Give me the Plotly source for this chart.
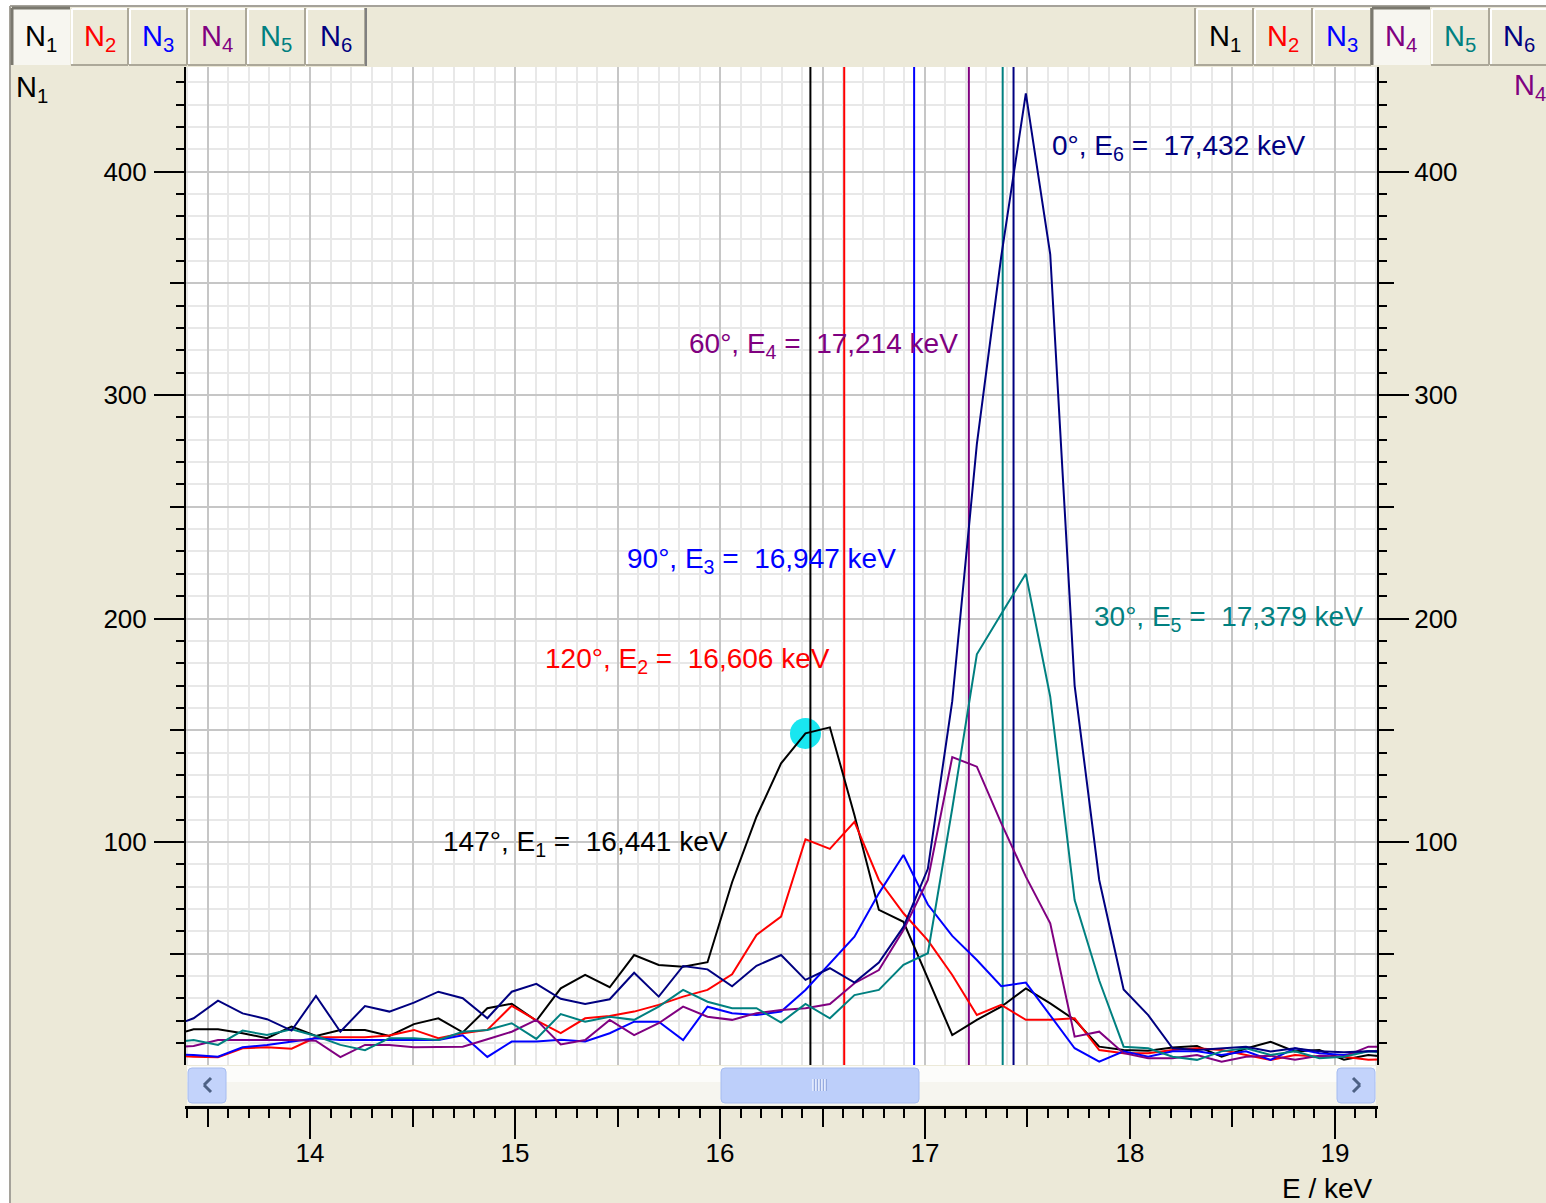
import plotly.graph_objects as go

W, H = 1546, 1203

# ---------------- data ----------------
energy_keV = [13.313, 13.432, 13.551, 13.671, 13.790, 13.910, 14.029, 14.148, 14.268, 14.387, 14.507,
              14.626, 14.745, 14.865, 14.984, 15.104, 15.223, 15.342, 15.462, 15.581, 15.701,
              15.820, 15.939, 16.059, 16.178, 16.298, 16.417, 16.536, 16.656, 16.775, 16.895,
              17.014, 17.133, 17.253, 17.372, 17.492, 17.611, 17.730, 17.850, 17.969, 18.089,
              18.208, 18.327, 18.447, 18.566, 18.686, 18.805, 18.924, 19.044, 19.163, 19.283]

N1 = [13.0, 16.2, 16.2, 14.4, 12.2, 17.4, 13.2, 15.9, 15.9, 13.2, 18.5,
      21.1, 14.8, 25.6, 27.6, 20.0, 34.5, 40.5, 35.0, 49.4, 45.0,
      44.2, 46.2, 82.0, 111.3, 135.2, 148.6, 151.3, 112.0, 69.6, 64.3,
      39.3, 13.6, 20.4, 26.3, 34.5, 27.8, 20.4, 8.4, 6.9, 6.6,
      8.0, 8.7, 3.9, 7.6, 10.6, 6.3, 6.9, 2.6, 4.7, 3.5]
N2 = [4.5, 3.9, 3.7, 7.7, 8.1, 7.5, 12.6, 12.6, 12.6, 13.4, 15.9,
      12.2, 14.4, 15.9, 26.7, 20.2, 14.5, 21.1, 22.1, 24.1, 27.1,
      30.8, 33.8, 40.8, 58.4, 66.6, 101.2, 96.9, 109.0, 83.0, 68.1,
      56.0, 40.5, 22.6, 27.1, 20.4, 20.4, 21.1, 6.9, 5.5, 5.5,
      6.9, 7.7, 6.9, 4.7, 2.5, 4.7, 3.9, 3.9, 2.5, 2.8]
N3 = [5.0, 4.7, 3.9, 8.1, 9.2, 10.7, 12.2, 11.4, 11.4, 11.4, 11.4,
      11.4, 13.5, 3.8, 10.7, 10.7, 11.5, 10.7, 14.4, 19.6, 19.6,
      11.4, 26.3, 23.4, 22.6, 24.1, 33.8, 45.7, 57.6, 77.0, 94.2,
      72.0, 58.0, 47.2, 35.5, 37.1, 22.6, 7.7, 1.7, 6.3, 3.9,
      6.3, 6.3, 4.7, 6.3, 2.5, 7.7, 5.5, 4.7, 6.3, 6.3]
N4 = [8.0, 8.7, 11.4, 11.4, 11.4, 11.4, 11.0, 3.7, 9.2, 9.2, 8.1,
      8.1, 8.4, 11.7, 15.1, 20.4, 9.4, 11.4, 20.4, 13.6, 18.9,
      26.3, 21.8, 20.4, 23.4, 24.8, 25.6, 27.5, 36.8, 42.7, 60.6,
      83.0, 138.0, 133.7, 108.4, 84.5, 63.6, 12.9, 15.1, 5.5, 3.2,
      3.2, 4.7, 1.7, 3.9, 4.3, 2.5, 4.3, 3.9, 8.4, 8.4]
N5 = [10.0, 11.4, 9.2, 15.6, 13.6, 16.2, 13.2, 9.2, 6.8, 12.2, 12.2,
      11.4, 15.1, 15.9, 18.9, 11.9, 23.0, 19.6, 21.8, 20.4, 26.3,
      33.8, 28.5, 25.6, 25.6, 19.2, 27.5, 21.1, 31.5, 33.8, 45.0,
      50.2, 115.0, 184.0, 202.0, 220.0, 165.0, 74.0, 38.0, 8.4, 7.7,
      3.9, 2.5, 6.3, 7.7, 4.7, 6.3, 3.2, 3.9, 6.3, 5.5]
N6 = [17.0, 21.1, 29.0, 23.3, 20.7, 15.6, 31.1, 15.1, 26.6, 24.1, 28.1,
      33.0, 30.1, 21.1, 33.0, 36.5, 29.8, 27.5, 29.6, 41.5, 30.8,
      44.5, 43.0, 35.4, 44.6, 49.4, 38.3, 43.5, 37.1, 46.0, 62.0,
      88.0, 163.0, 278.0, 362.0, 435.0, 363.0, 170.0, 83.0, 34.0, 22.5,
      7.7, 6.9, 7.7, 8.4, 6.3, 7.7, 6.3, 5.9, 6.3, 6.3]

series_names = ["N1", "N2", "N3", "N4", "N5", "N6"]
series_values = [N1, N2, N3, N4, N5, N6]
angles_deg = [147, 120, 90, 60, 30, 0]
peak_energy_keV = [16.441, 16.606, 16.947, 17.214, 17.379, 17.432]
cursor_index = 26  # cursor sits on an N1 channel

x_tick_labels = ["14", "15", "16", "17", "18", "19"]
y_tick_labels = ["100", "200", "300", "400"]

# ---------------- styles ----------------
colors = ["#000000", "#FF0000", "#0000FF", "#800080", "#008080", "#000080"]
BEIGE = "#ECE9D8"
FONT = "Liberation Sans, Arial, sans-serif"
NARROW = "Liberation Sans Narrow, Arial Narrow, Liberation Sans, sans-serif"

def fx(x):
    return x / W

def fy(y):
    return 1 - y / H

X0, X1 = 185, 1378
Y_TOP, Y_BOT = 67, 1065
XRANGE = [13.39, 19.21]
YRANGE = [0.2, 446.8]
AXIS_Y = 1107

fig = go.Figure()

# cursor dot (under everything else)
fig.add_trace(go.Scatter(x=[energy_keV[cursor_index]], y=[N1[cursor_index]], mode="markers",
                         marker=dict(size=31, color="#19E6F0", line=dict(width=0)),
                         hoverinfo="skip", showlegend=False))

# peak-energy vertical lines (full plot height), drawn under the spectra
for e, col in zip(peak_energy_keV, colors):
    fig.add_trace(go.Scatter(x=[e, e], y=YRANGE, mode="lines", line=dict(color=col, width=2),
                             hoverinfo="skip", showlegend=False))

for name, vals, col in zip(series_names, series_values, colors):
    fig.add_trace(go.Scatter(x=energy_keV, y=vals, mode="lines", name=name,
                             line=dict(color=col, width=2), showlegend=False))

# dummy traces to activate tick-only axes
for xa, ya in [("x2", "y"), ("x3", "y"), ("x", "y2"), ("x", "y3"), ("x", "y4"), ("x", "y5")]:
    fig.add_trace(go.Scatter(x=[None], y=[None], xaxis=xa, yaxis=ya, showlegend=False, hoverinfo="skip"))

shapes = []

def rect(x0, y0, x1, y1, fill, lc=None, lw=0):
    shapes.append(dict(type="rect", xref="paper", yref="paper", x0=fx(x0), x1=fx(x1), y0=fy(y1), y1=fy(y0),
                       fillcolor=fill, line=dict(width=lw, color=lc or fill), layer="above"))

def seg(x0, y0, x1, y1, color, w):
    shapes.append(dict(type="line", xref="paper", yref="paper", x0=fx(x0), y0=fy(y0), x1=fx(x1), y1=fy(y1),
                       line=dict(color=color, width=w), layer="above"))

def rrect(x0, y0, x1, y1, r, fill, lc, lw=1):
    p = (f"M {fx(x0 + r)},{fy(y0)} L {fx(x1 - r)},{fy(y0)} Q {fx(x1)},{fy(y0)} {fx(x1)},{fy(y0 + r)} "
         f"L {fx(x1)},{fy(y1 - r)} Q {fx(x1)},{fy(y1)} {fx(x1 - r)},{fy(y1)} "
         f"L {fx(x0 + r)},{fy(y1)} Q {fx(x0)},{fy(y1)} {fx(x0)},{fy(y1 - r)} "
         f"L {fx(x0)},{fy(y0 + r)} Q {fx(x0)},{fy(y0)} {fx(x0 + r)},{fy(y0)} Z")
    shapes.append(dict(type="path", xref="paper", yref="paper", path=p, fillcolor=fill,
                       line=dict(color=lc, width=lw), layer="above"))

# outer white strips and frame
rect(0, 0, 10, H, "white")
rect(0, 0, W, 6, "white")
seg(10, 6, 10, H, "#A5A29A", 2)
seg(10, 6, W, 6, "#A5A29A", 2)

annotations = []

# tabs
def tabs(x_edges, selected):
    for i in range(6):
        a, b = x_edges[i], x_edges[i + 1] - 1
        top, bot = 8, 65
        if i == selected:
            rect(a, top, b, bot, "#F7F6F0")
            seg(a, top, b, top, "#7A786E", 3)
            seg(a, top, a, bot, "#7A786E", 3)
        else:
            rect(a, top, b, bot, BEIGE)
            seg(a + 1, top + 1, b, top + 1, "white", 2)
            seg(a + 1, top + 1, a + 1, bot, "white", 2)
            seg(b, top, b, bot, "#ACA899", 2)
            seg(a, bot, b, bot, "#ACA899", 2)
        annotations.append(dict(xref="paper", yref="paper", x=fx((a + b) / 2), y=fy(38),
                                text=f"N<sub>{i + 1}</sub>", showarrow=False,
                                font=dict(family=NARROW, size=29, color=colors[i]),
                                xanchor="center", yanchor="middle"))

tabs([12, 71, 129, 188, 247, 306, 366], 0)
seg(366, 8, 366, 66, "#808080", 2)
seg(1195, 8, 1195, 66, "#ACA899", 2)
tabs([1196, 1254, 1313, 1372, 1431, 1490, 1548], 3)

# panel labels
annotations.append(dict(xref="paper", yref="paper", x=fx(14), y=fy(89), text="N<sub>1</sub>", showarrow=False,
                        font=dict(family=NARROW, size=29, color=colors[0]), xanchor="left", yanchor="middle"))
annotations.append(dict(xref="paper", yref="paper", x=fx(1548), y=fy(87), text="N<sub>4</sub>", showarrow=False,
                        font=dict(family=NARROW, size=29, color=colors[3]), xanchor="right", yanchor="middle"))

# scrollbar
rect(187, 1066, 1376, 1105, "#F6F5EF")
rect(187, 1066, 1376, 1082, "#FCFCFA")
rrect(188, 1068, 226, 1103, 4, "#C3D3FB", "#A6BCF0")
rrect(1337, 1068, 1375, 1103, 4, "#C3D3FB", "#A6BCF0")
rrect(721, 1068, 919, 1103, 4, "#BDCFFA", "#A6BCF0")
seg(211, 1078, 204, 1085, "#4D6185", 3)
seg(204, 1085, 211, 1092, "#4D6185", 3)
seg(1353, 1078, 1360, 1085, "#4D6185", 3)
seg(1360, 1085, 1353, 1092, "#4D6185", 3)
for gx in [813, 816, 819, 822, 825]:
    seg(gx, 1079, gx, 1091, "#EEF3FF", 1.5)
    seg(gx + 1.3, 1079, gx + 1.3, 1091, "#8CA2DA", 1)

# peak labels
label_pos = [(441, 843), (543, 660), (625, 561), (687, 345), (1092, 618), (1050, 147)]
for i, (ang, e, col, (lx, ly)) in enumerate(zip(angles_deg, peak_energy_keV, colors, label_pos)):
    txt = f"{ang}°, E<sub>{i + 1}</sub> =\u00a0\u00a0" + f"{e:.3f}".replace(".", ",") + " keV"
    annotations.append(dict(xref="paper", yref="paper", x=fx(lx), y=fy(ly), text=txt, showarrow=False,
                            font=dict(family=FONT, size=28, color=col), xanchor="left", yanchor="middle"))

annotations.append(dict(xref="paper", yref="paper", x=fx(1327), y=fy(1188), text="E / keV", showarrow=False,
                        font=dict(family=FONT, size=28, color="black"), xanchor="center", yanchor="middle"))

tickfont = dict(family=NARROW, size=26, color="black")
GRID_MAJ = "#C6C6C6"
GRID_MIN = "#E8E8E8"

xticks = [float(t) for t in x_tick_labels]
yticks = [float(t) for t in y_tick_labels]

fig.update_layout(
    width=W, height=H, margin=dict(l=0, r=0, t=0, b=0, pad=0),
    paper_bgcolor=BEIGE, plot_bgcolor="white", template="none", showlegend=False,
    xaxis=dict(domain=[fx(X0), fx(X1)], range=XRANGE, anchor="y", dtick=0.5, tick0=0,
               showgrid=True, gridcolor=GRID_MAJ, gridwidth=2, showticklabels=False, ticks="",
               zeroline=False, showline=False,
               minor=dict(dtick=0.1, tick0=0, showgrid=True, gridcolor=GRID_MIN, gridwidth=1.5, ticks="")),
    yaxis=dict(domain=[fy(Y_BOT), fy(Y_TOP)], range=YRANGE, anchor="x", dtick=50, tick0=0,
               showgrid=True, gridcolor=GRID_MAJ, gridwidth=2, showticklabels=False, ticks="",
               zeroline=False, showline=False,
               minor=dict(dtick=10, tick0=0, showgrid=True, gridcolor=GRID_MIN, gridwidth=1.5, ticks="")),
    xaxis2=dict(overlaying="x", anchor="free", position=fy(AXIS_Y), side="bottom", range=XRANGE,
                tickmode="array", tickvals=xticks, ticktext=x_tick_labels,
                ticks="outside", ticklen=30, tickwidth=2, tickcolor="black",
                showline=True, linecolor="black", linewidth=3, showgrid=False, zeroline=False,
                tickfont=tickfont, ticklabelstandoff=-8,
                minor=dict(dtick=0.1, tick0=0, ticks="outside", ticklen=9, tickwidth=2, tickcolor="black",
                           showgrid=False)),
    xaxis3=dict(overlaying="x", anchor="free", position=fy(AXIS_Y), side="bottom", range=XRANGE,
                dtick=0.5, tick0=0, ticks="outside", ticklen=19, tickwidth=2, tickcolor="black",
                showticklabels=False, showline=False, showgrid=False, zeroline=False),
    yaxis2=dict(overlaying="y", anchor="free", position=fx(X0), side="left", range=YRANGE,
                tickmode="array", tickvals=yticks, ticktext=y_tick_labels,
                ticks="outside", ticklen=30, tickwidth=2, tickcolor="black",
                showline=True, linecolor="black", linewidth=2, showgrid=False, zeroline=False,
                tickfont=tickfont, ticklabelstandoff=2,
                minor=dict(dtick=10, tick0=0, ticks="outside", ticklen=8, tickwidth=2, tickcolor="black",
                           showgrid=False)),
    yaxis3=dict(overlaying="y", anchor="free", position=fx(X0), side="left", range=YRANGE,
                dtick=50, tick0=0, ticks="outside", ticklen=15, tickwidth=2, tickcolor="black",
                showticklabels=False, showline=False, showgrid=False, zeroline=False),
    yaxis4=dict(overlaying="y", anchor="free", position=fx(X1), side="right", range=YRANGE,
                tickmode="array", tickvals=yticks, ticktext=y_tick_labels,
                ticks="outside", ticklen=30, tickwidth=2, tickcolor="black",
                showline=True, linecolor="black", linewidth=2, showgrid=False, zeroline=False,
                tickfont=tickfont, ticklabelstandoff=0,
                minor=dict(dtick=10, tick0=0, ticks="outside", ticklen=8, tickwidth=2, tickcolor="black",
                           showgrid=False)),
    yaxis5=dict(overlaying="y", anchor="free", position=fx(X1), side="right", range=YRANGE,
                dtick=50, tick0=0, ticks="outside", ticklen=15, tickwidth=2, tickcolor="black",
                showticklabels=False, showline=False, showgrid=False, zeroline=False),
    shapes=shapes,
    annotations=annotations,
)

fig.write_html("out.html")
